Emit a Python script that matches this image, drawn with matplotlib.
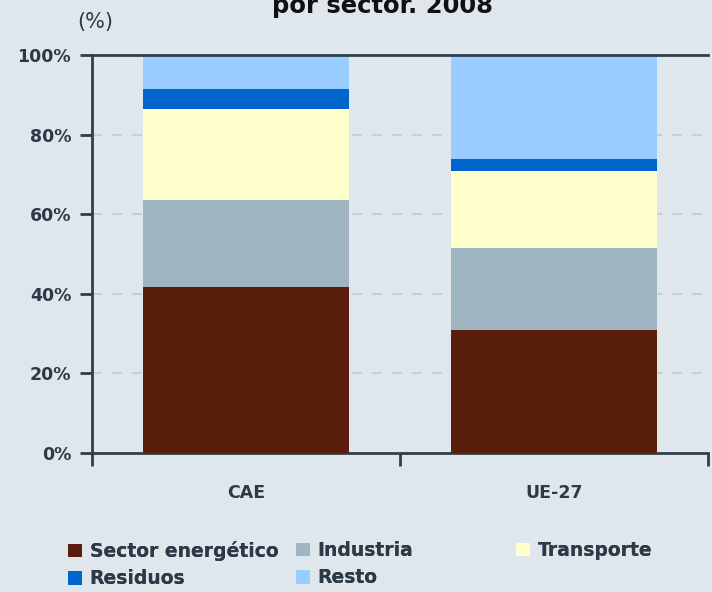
import matplotlib
matplotlib.use("Agg")
import matplotlib.pyplot as plt
from matplotlib.patches import Patch
import numpy as np

categories = ["CAE", "UE-27"]
series_names = ["Sector energético", "Industria", "Transporte", "Residuos", "Resto"]
sector_energetico = [41.6, 31.0]
industria = [21.9, 20.6]
transporte = [22.9, 19.2]
residuos = [5.0, 3.0]
resto = [8.6, 26.2]
colors = ["#5a1e0c", "#9fb5c1", "#ffffcc", "#0066cc", "#99ccff"]
yticks = [0, 20, 40, 60, 80, 100]
ytick_labels = ["0%", "20%", "40%", "60%", "80%", "100%"]

bg = "#dfe6ec"
txt = "#2c3a47"
axc = "#2e3f4c"

fig = plt.figure(figsize=(7.12, 5.92), dpi=100, facecolor=bg)
ax = fig.add_axes([92/712, 1-453/592, (708-92)/712, (453-55)/592], facecolor=bg)

x = np.arange(len(categories))
data = [sector_energetico, industria, transporte, residuos, resto]
bottom = np.zeros(len(categories))
for vals, col, name in zip(data, colors, series_names):
    ax.bar(x, vals, bottom=bottom, width=0.667, color=col, label=name, zorder=3)
    bottom += np.array(vals)

ax.set_xlim(-0.5, 1.5)
ax.set_ylim(0, 100)
ax.set_yticks(yticks)
ax.set_yticklabels(ytick_labels, fontsize=12.5, fontweight="bold", color=txt)
ax.set_xticks(x)
ax.set_xticklabels(categories, fontsize=12.5, fontweight="bold", color=txt)
ax.set_xticks([-0.5, 0.5, 1.5], minor=True)
ax.tick_params(axis="x", which="major", length=0, pad=22)
ax.tick_params(axis="x", which="minor", length=9, width=2, color=axc, direction="out")
ax.tick_params(axis="y", length=9, width=2, color=axc, pad=6)

for y in [20, 40, 60, 80]:
    ax.axhline(y, color="#c8cacc", lw=1.2, ls=(0, (6, 6)), zorder=1)

for s in ["left", "bottom", "top"]:
    ax.spines[s].set_color(axc)
    ax.spines[s].set_linewidth(2)
ax.spines["right"].set_visible(False)
ax.spines["top"].set_zorder(4)

fig.text(77/712, 1-22/592, "(%)", fontsize=15, color=txt, va="center", ha="left")
fig.text(382/712, 1-13/592, "por sector. 2008", fontsize=17.5, fontweight="bold",
         color="#111111", ha="center", va="baseline")

handles = [Patch(facecolor=c, edgecolor="none") for c in colors]
cols = [([0, 3], 68), ([1, 4], 296), ([2], 516)]
for idx, xpix in cols:
    leg = fig.legend([handles[i] for i in idx], [series_names[i] for i in idx],
                     loc="upper left", bbox_to_anchor=(xpix/712, 1-541/592),
                     frameon=False, fontsize=13.5,
                     prop={"weight": "bold", "size": 13.5},
                     handlelength=0.75, handleheight=0.75,
                     handletextpad=0.4, labelspacing=0.45, borderaxespad=0, borderpad=0,
                     labelcolor=txt)
    fig.add_artist(leg)

fig.savefig("out.png", dpi=100, facecolor=bg)
